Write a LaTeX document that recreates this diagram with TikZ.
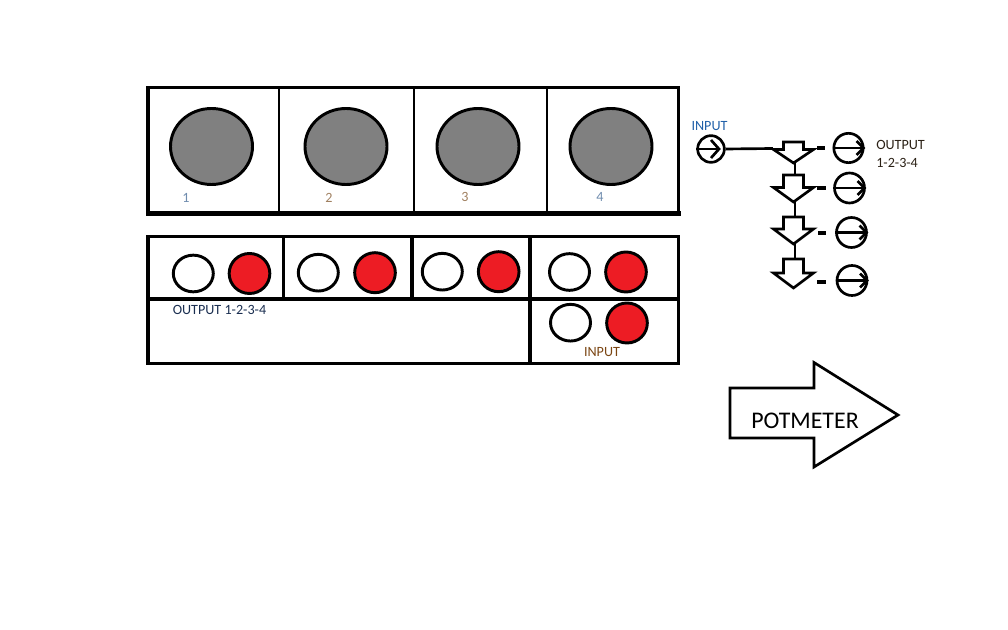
\documentclass[tikz,border=0pt]{standalone}
\usepackage{fontspec}
\setmainfont{Carlito}
\usetikzlibrary{shapes.geometric,calc}
\definecolor{knobgray}{HTML}{808080}
\definecolor{jackred}{HTML}{ED1C24}
\definecolor{numblue}{HTML}{6F8CAE}
\definecolor{numbrown}{HTML}{A08060}
\definecolor{inblue}{HTML}{1F5FA8}
\definecolor{outnavy}{HTML}{1A2E50}
\definecolor{inbrown}{HTML}{7A4512}
\definecolor{outdark}{HTML}{2A2015}
\begin{document}
\begin{tikzpicture}[x=0.75pt,y=-0.75pt,
  knob/.style={ellipse,draw=black,line width=2.2pt,fill=knobgray,minimum width=61.5pt,minimum height=57pt,inner sep=0pt},
  whitejack/.style={ellipse,draw=black,line width=2.2pt,fill=white,minimum width=30pt,minimum height=27.5pt,inner sep=0pt},
  redjack/.style={ellipse,draw=black,line width=2.2pt,fill=jackred,minimum width=30.5pt,minimum height=30pt,inner sep=0pt},
  boxline/.style={line width=2.7pt},
  thinline/.style={line width=0.8pt},
  lbl/.style={font=\fontsize{10.6}{12}\selectfont,inner sep=0pt},
  ring/.style={circle,draw=black,line width=2pt,inner sep=0pt},
  wire/.style={line width=2pt},
  blockarrow/.style={draw=black,line width=2pt,fill=white,line join=miter}
]
\useasboundingbox (0,0) rectangle (1008,630);

% ---------- top box with knobs ----------
\draw[line width=2.3pt] (148,87.5) rectangle (678.5,213.5);
\draw[line width=3.2pt] (148,86.5) -- (148,216);
\draw[line width=3.8pt] (146.5,213.8) -- (680.5,213.8);
\draw[thinline] (279,87.5) -- (279,213.5);
\draw[thinline] (414,87.5) -- (414,213.5);
\draw[thinline] (547,87.5) -- (547,213.5);

\node[knob] (k1) at (211.5,146.5) {};
\node[knob] (k2) at (346,146.5) {};
\node[knob] (k3) at (478,146.5) {};
\node[knob] (k4) at (611,146.5) {};
\node[lbl,text=numblue]  (n1) at (186,198) {1};
\node[lbl,text=numbrown] (n2) at (329,198) {2};
\node[lbl,text=numbrown] (n3) at (465,197) {3};
\node[lbl,text=numblue]  (n4) at (600,197) {4};

% ---------- bottom box with jacks ----------
\draw[boxline] (148,236.7) rectangle (678.5,363.7);
\draw[boxline] (148,299) -- (678.5,299);
\draw[boxline] (283.3,236.7) -- (283.3,299);
\draw[boxline] (411.7,236.7) -- (411.7,299);
\draw[boxline] (530,236.7) -- (530,363.7);

\node[whitejack] (w1) at (193.3,273.5) {};
\node[redjack]   (r1) at (249.5,273.5) {};
\node[whitejack] (w2) at (318.3,272.7) {};
\node[redjack]   (r2) at (375,272.7) {};
\node[whitejack] (w3) at (442.3,271.7) {};
\node[redjack]   (r3) at (498.7,271.7) {};
\node[whitejack] (w4) at (569.5,272) {};
\node[redjack]   (r4) at (626,272) {};
\node[whitejack] (w5) at (570.5,322.7) {};
\node[redjack]   (r5) at (627,323) {};

\node[lbl,text=outnavy,anchor=west] (outlbl) at (172.5,309.5) {OUTPUT 1-2-3-4};
\node[lbl,text=inbrown] (inlbl) at (602,352.5) {INPUT};

% ---------- signal chain on the right ----------
\node[lbl,text=inblue] (intext) at (709.5,126.5) {INPUT};
\node[ring,minimum size=20pt] (in) at (711,149) {};
\draw[wire] (in.west) -- ($(in.center)+(8,0)$);
\draw[wire] ($(in.center)+(0,-9)$) -- ($(in.center)+(8,0)$) -- ($(in.center)+(0,9)$);

% down block arrows: top, shoulder, tip
\foreach \i/\t/\s/\p in {1/142/149.5/163,2/175/187.5/202,3/217/229/244,4/259/273/288}{
  \draw[blockarrow] (783.5,\t) -- (803.5,\t) -- (803.5,\s) -- (813.5,\s) -- (793.5,\p)
      -- (773.5,\s) -- (783.5,\s) -- cycle;
  \coordinate (top\i) at (795,\t);
  \coordinate (tip\i) at (795,\p);
}
\coordinate (feed) at (773,148.5);
\draw[wire] (in.east) -- (feed);
\draw[wire] (tip1) -- (top2);
\draw[wire] (tip2) -- (top3);
\draw[wire] (tip3) -- (top4);

\node[ring,minimum size=22pt] (o1) at (848.5,148) {};
\node[ring,minimum size=22.5pt] (o2) at (849.5,188) {};
\node[ring,minimum size=22.5pt] (o3) at (851.5,232.5) {};
\node[ring,minimum size=22.5pt] (o4) at (852,280.5) {};
\foreach \o in {o1,o2,o3,o4}{
  \draw[wire] (\o.west) -- ($(\o.center)+(15,0)$);
  \draw[wire] ($(\o.center)+(8,-7)$) -- ($(\o.center)+(15,0)$) -- ($(\o.center)+(8,7)$);
}
\foreach \i/\y/\a/\b in {1/148/817/824.5,2/188/817/826,3/233/818/826,4/282/817/826}{
  \coordinate (da\i) at (\a,\y);
  \coordinate (db\i) at (\b,\y);
  \draw[line width=2.6pt] (da\i) -- (db\i);
}

\node[lbl,text=outdark,anchor=west] (outtext1) at (876,144.5) {OUTPUT};
\node[lbl,text=outdark,anchor=west] (outtext2) at (876,163) {1-2-3-4};

% ---------- POTMETER arrow ----------
\draw[blockarrow] (730,388) -- (814,388) -- (814,362.5) -- (898,415) -- (814,467)
   -- (814,438) -- (730,438) -- cycle;
\node[font=\fontsize{17.9}{20}\selectfont,inner sep=0pt] (pot) at (805,421) {POTMETER};
\end{tikzpicture}
\end{document}
